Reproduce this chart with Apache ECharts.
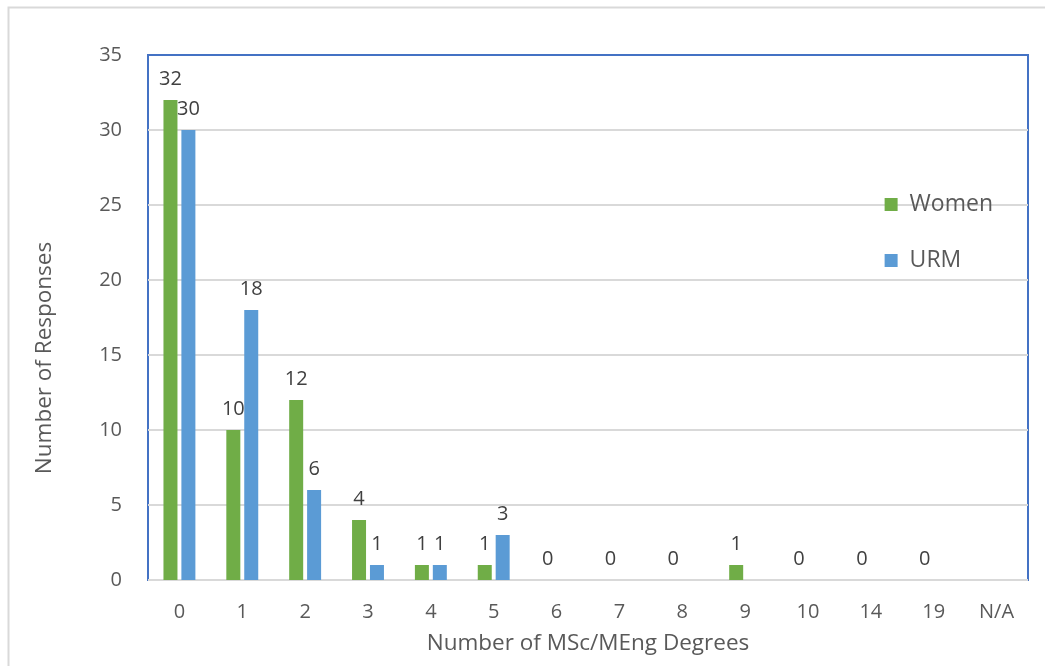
<!DOCTYPE html>
<html>
<head>
<meta charset="utf-8">
<script src="https://cdn.jsdelivr.net/npm/echarts@6/dist/echarts.min.js"></script>
<style>
html,body{margin:0;padding:0;background:#fff;}
#chart{width:1045px;height:666px;}
</style>
</head>
<body>
<div id="chart"></div>
<script>
const categories = ['0','1','2','3','4','5','6','7','8','9','10','14','19','N/A'];
const women = [32, 10, 12, 4, 1, 1, 0, 0, 0, 1, 0, 0, 0, null];
const urm = [30, 18, 6, 1, 1, 3, null, null, null, null, null, null, null, null];
const yTicks = { min: 0, max: 35, interval: 5 };

const FONT = '"Open Sans", "Noto Sans", sans-serif';
const chart = echarts.init(document.getElementById('chart'));

const labelCfg = {
  show: true, position: 'top', distance: 11,
  color: '#404040', fontSize: 20, fontFamily: FONT,
  formatter: p => (p.value === null || p.value === undefined) ? '' : String(p.value)
};

chart.setOption({
  animation: false,
  backgroundColor: '#ffffff',
  grid: { left: 148, right: 17, top: 55, bottom: 86, show: true, borderColor: '#4472C4', borderWidth: 2, backgroundColor: 'transparent' },
  legend: {
    orient: 'vertical', right: 47, top: 188, itemGap: 33,
    itemWidth: 13, itemHeight: 13, icon: 'rect',
    textStyle: { color: '#595959', fontSize: 23, fontFamily: FONT, padding: [0, 0, 0, 7] },
    data: ['Women', 'URM']
  },
  xAxis: {
    type: 'category', data: categories,
    axisLine: { show: false }, axisTick: { show: false },
    axisLabel: { color: '#595959', fontSize: 20, fontFamily: FONT, margin: 22 },
    name: 'Number of MSc/MEng Degrees', nameLocation: 'middle', nameGap: 52,
    nameTextStyle: { color: '#595959', fontSize: 22.5, fontFamily: FONT }
  },
  yAxis: {
    type: 'value', min: yTicks.min, max: yTicks.max, interval: yTicks.interval,
    axisLine: { show: false }, axisTick: { show: false },
    axisLabel: { color: '#595959', fontSize: 20, fontFamily: FONT, margin: 26 },
    splitLine: { showMaxLine: false, lineStyle: { color: '#d9d9d9', width: 2 } }
  },
  graphic: [
    { type: 'rect', left: 6, top: 5, z: -10, silent: true,
      shape: { width: 1100, height: 720 },
      style: { fill: 'none', stroke: '#d9d9d9', lineWidth: 2 } },
    { type: 'text', x: 45, y: 358, rotation: Math.PI / 2, silent: true,
      style: { text: 'Number of Responses', fill: '#595959', fontSize: 22.5, fontFamily: FONT,
        textAlign: 'center', textVerticalAlign: 'middle' } }
  ],
  series: [
    { name: 'Women', type: 'bar', data: women, barWidth: 14, barGap: '28%',
      itemStyle: { color: '#70AD47' }, label: labelCfg },
    { name: 'URM', type: 'bar', data: urm, barWidth: 14,
      itemStyle: { color: '#5B9BD5' }, label: labelCfg }
  ]
});
</script>
</body>
</html>
